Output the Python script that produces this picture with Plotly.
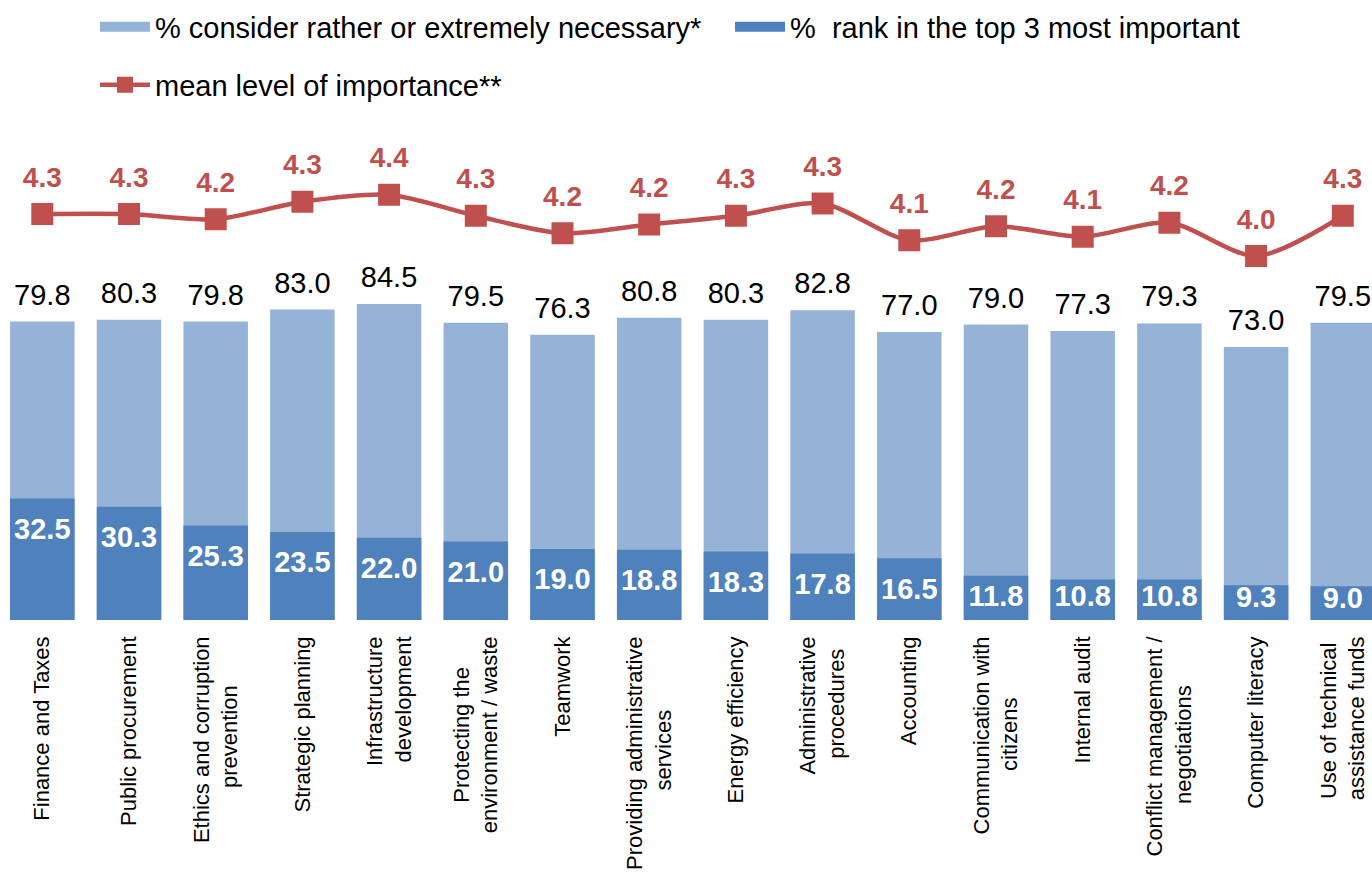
import plotly.graph_objects as go

# ---------------- data ----------------
categories = [
    "Finance and Taxes",
    "Public procurement",
    "Ethics and corruption<br>prevention",
    "Strategic planning",
    "Infrastructure<br>development",
    "Protecting the<br>environment / waste",
    "Teamwork",
    "Providing administrative<br>services",
    "Energy efficiency",
    "Administrative<br>procedures",
    "Accounting",
    "Communication with<br>citizens",
    "Internal audit",
    "Conflict management /<br>negotiations",
    "Computer literacy",
    "Use of technical<br>assistance funds",
]
pct_necessary = [79.8, 80.3, 79.8, 83.0, 84.5, 79.5, 76.3, 80.8,
                 80.3, 82.8, 77.0, 79.0, 77.3, 79.3, 73.0, 79.5]
pct_top3 = [32.5, 30.3, 25.3, 23.5, 22.0, 21.0, 19.0, 18.8,
            18.3, 17.8, 16.5, 11.8, 10.8, 10.8, 9.3, 9.0]
mean_importance = [4.27, 4.27, 4.24, 4.34, 4.38, 4.26, 4.16, 4.21,
                   4.26, 4.33, 4.12, 4.20, 4.14, 4.22, 4.03, 4.26]

name_nec = "% consider rather or extremely necessary*"
name_top = "%  rank in the top 3 most important"
name_mean = "mean level of importance**"

# ---------------- style ----------------
LIGHT = "#95B3D7"
DARK = "#4F81BD"
RED = "#C0504D"
FONT = "Liberation Sans, Arial, sans-serif"
W, H = 1372, 874
BAR_W = 0.744
LABEL_SIZE = 29

plot_bottom = 620.0           # px from top where bars start
px_per_pct = 3.74

# approximate Arial advance widths (em) to centre two-line rotated labels
_cw = dict(zip("abcdefghijklmnopqrstuvwxyz",
               [.556, .556, .5, .556, .556, .278, .556, .556, .222, .222, .5, .222, .833,
                .556, .556, .556, .556, .333, .5, .278, .556, .5, .722, .5, .5, .5]))
_cw.update({" ": .278, "/": .278, "A": .667, "C": .722, "E": .667, "I": .278,
            "P": .667, "U": .722, "T": .611, "F": .611, "S": .667})


def _w(s):
    return sum(_cw.get(c, .56) for c in s)


def centred(lbl):
    lines = lbl.split("<br>")
    if len(lines) == 1:
        return lbl
    m = max(_w(l) for l in lines)
    return "<br>".join(l + "\u00a0" * round((m - _w(l)) / 2 / .278) for l in lines)


def inside_offset_size(v):
    """invisible marker size that puts the label inside the top of the bar,
    but keeps it above the bar base for short bars"""
    h = v * px_per_pct
    offset = min(40.25, h - 14)          # baseline distance below bar top
    r_eff = offset - 0.75 * LABEL_SIZE
    if r_eff <= 1:
        return 0
    return 2 * 0.8 * (r_eff - 1)


tick_text = [centred(c) for c in categories]
xs = list(range(len(categories)))

fig = go.Figure()

# bars
fig.add_trace(go.Bar(x=xs, y=pct_necessary, marker=dict(color=LIGHT, line=dict(width=0)),
                     width=BAR_W, name=name_nec, legendgroup="nec", showlegend=False,
                     hoverinfo="y"))
fig.add_trace(go.Bar(x=xs, y=pct_top3, marker=dict(color=DARK, line=dict(width=0)),
                     width=BAR_W, name=name_top, legendgroup="top", showlegend=False,
                     hoverinfo="y"))

# bar value labels
fig.add_trace(go.Scatter(x=xs, y=pct_necessary, mode="markers+text",
                         text=[f"{v:.1f}" for v in pct_necessary],
                         textposition="top center",
                         textfont=dict(family=FONT, size=LABEL_SIZE, color="black"),
                         marker=dict(size=14, opacity=0), showlegend=False,
                         hoverinfo="skip", legendgroup="nec"))
fig.add_trace(go.Scatter(x=xs, y=pct_top3, mode="markers+text",
                         text=[f"{v:.1f}" for v in pct_top3],
                         textposition="bottom center",
                         textfont=dict(family=FONT, size=LABEL_SIZE, color="white", weight="bold"),
                         marker=dict(size=[inside_offset_size(v) for v in pct_top3], opacity=0),
                         showlegend=False, hoverinfo="skip", legendgroup="top"))

# line on secondary axis
fig.add_trace(go.Scatter(x=xs, y=mean_importance, yaxis="y2", mode="lines+markers",
                         line=dict(color=RED, width=4.5, shape="spline", smoothing=0.8),
                         marker=dict(symbol="square", size=22, color=RED),
                         name=name_mean, legend="legend3"))
fig.add_trace(go.Scatter(x=xs, y=mean_importance, yaxis="y2", mode="markers+text",
                         text=[f"{v:.1f}" for v in mean_importance],
                         textposition="top center",
                         textfont=dict(family=FONT, size=28, color=RED, weight="bold"),
                         marker=dict(size=31, opacity=0), showlegend=False,
                         hoverinfo="skip"))

# legend swatches for the bars (rectangles)
fig.add_trace(go.Scatter(x=[None], y=[None], mode="lines",
                         line=dict(color=LIGHT, width=17),
                         name=name_nec, legendgroup="nec", legend="legend"))
fig.add_trace(go.Scatter(x=[None], y=[None], mode="lines",
                         line=dict(color=DARK, width=17),
                         name=name_top, legendgroup="top", legend="legend2"))

# ---------------- layout ----------------
y_top = plot_bottom / px_per_pct
y2_ref, y2_px, px_per_unit = 4.25, 217.5, 175.0
y2_lo = y2_ref - (plot_bottom - y2_px) / px_per_unit
y2_hi = y2_ref + y2_px / px_per_unit

step_px = 86.7
first_px = 42.3
x_lo = -first_px / step_px
x_hi = (W - first_px) / step_px

leg_common = dict(orientation="h", xanchor="left", yanchor="middle",
                  font=dict(family=FONT, size=29, color="black"),
                  itemwidth=50, bgcolor="rgba(0,0,0,0)", borderwidth=0)

fig.update_layout(
    width=W, height=H,
    margin=dict(l=0, r=0, t=0, b=H - plot_bottom, pad=0),
    paper_bgcolor="white", plot_bgcolor="white",
    barmode="overlay",
    font=dict(family=FONT, color="black"),
    xaxis=dict(range=[x_lo, x_hi], tickmode="array", tickvals=xs, ticktext=tick_text,
               tickangle=-90, showgrid=False, showline=False, zeroline=False,
               ticks="", tickfont=dict(family=FONT, size=22, color="black"),
               automargin=False, ticklabelstandoff=11),
    yaxis=dict(range=[0, y_top], visible=False, showgrid=False, fixedrange=True),
    yaxis2=dict(range=[y2_lo, y2_hi], overlaying="y", side="right", visible=False,
                showgrid=False),
    legend=dict(x=95 / W, y=1 - 27 / plot_bottom, **leg_common),
    legend2=dict(x=730 / W, y=1 - 27 / plot_bottom, **leg_common),
    legend3=dict(x=95 / W, y=1 - 85 / plot_bottom, **leg_common),
    showlegend=True,
)

fig.write_html("out.html")
